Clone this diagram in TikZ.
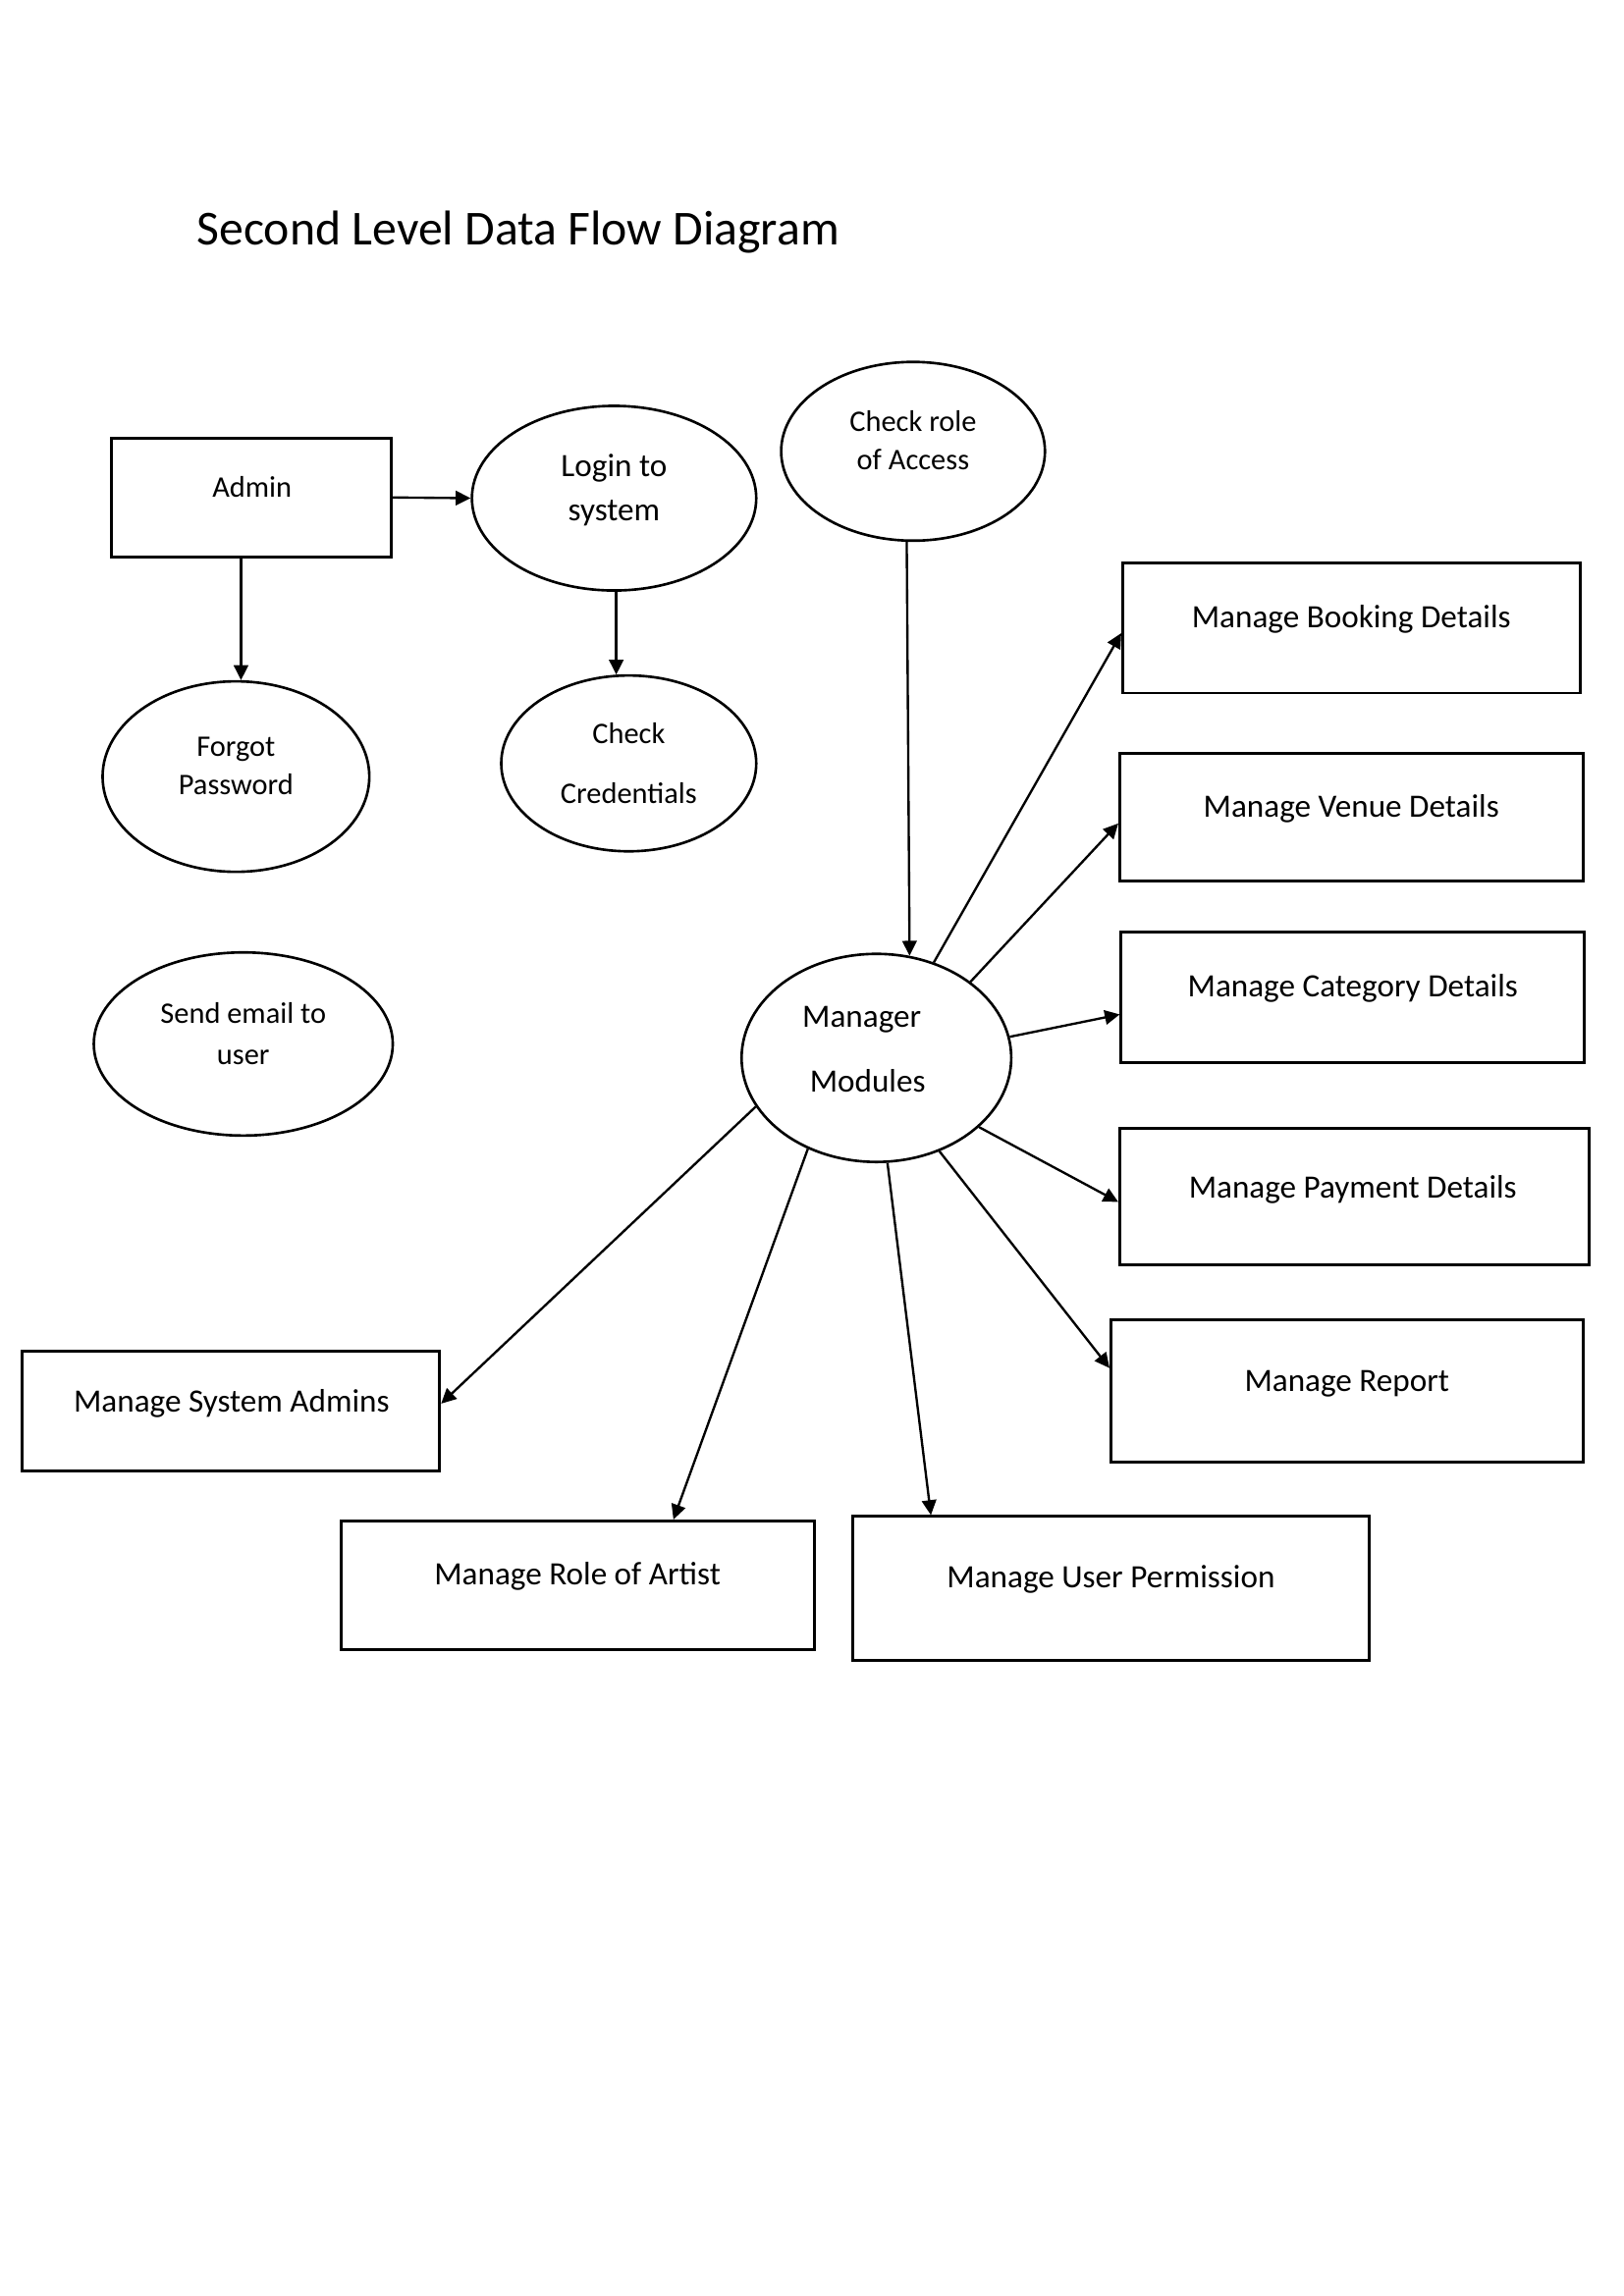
\documentclass[tikz,border=0pt]{standalone}
\usepackage{fontspec}
\setmainfont{Carlito}
\usetikzlibrary{shapes.geometric,arrows.meta,calc}
\def\ux{0.5399pt}
\tikzset{
  boxshape/.style={draw, line width=1.05pt, rectangle, inner sep=0pt},
  ovalshape/.style={draw, line width=0.95pt, ellipse, inner sep=0pt},
  txt/.style={font=\fontsize{12pt}{14pt}\selectfont, inner sep=0pt, anchor=mid, yshift=-1.6pt},
  stxt/.style={font=\fontsize{11pt}{13pt}\selectfont, inner sep=0pt, anchor=mid, yshift=-1.6pt},
  arr/.style={line width=0.85pt, -{Triangle[length=5.5pt,width=5.3pt]}},
}
\begin{document}
\begin{tikzpicture}[x=0.5399pt,y=-0.5399pt]
\useasboundingbox (0,0) rectangle (1108,1567);
% title
\node[font=\fontsize{18pt}{21pt}\selectfont, inner sep=0pt, anchor=mid west] (title) at (134,163) {Second Level Data Flow Diagram};

% boxes
\node[boxshape, minimum width=191*\ux, minimum height=81*\ux] (admin) at (171.5,339.5) {};
\node[stxt] (admint) at (172,332) {Admin};

\node[boxshape, minimum width=312*\ux, minimum height=89*\ux] (book) at (922,428.5) {};
\node[txt] (bookt) at (922,421) {Manage Booking Details};
\node[boxshape, minimum width=316*\ux, minimum height=87*\ux] (venue) at (922,557.5) {};
\node[txt] (venuet) at (922,550) {Manage Venue Details};
\node[boxshape, minimum width=316*\ux, minimum height=89*\ux] (cat) at (923,680.5) {};
\node[txt] (catt) at (923,673) {Manage Category Details};
\node[boxshape, minimum width=320*\ux, minimum height=93*\ux] (pay) at (924,816.5) {};
\node[txt] (payt) at (923,810) {Manage Payment Details};
\node[boxshape, minimum width=322*\ux, minimum height=97*\ux] (rep) at (919,949.5) {};
\node[txt] (rept) at (919,942) {Manage Report};
\node[boxshape, minimum width=285*\ux, minimum height=82*\ux] (sys) at (157.5,963) {};
\node[txt] (syst) at (158,956) {Manage System Admins};
\node[boxshape, minimum width=323*\ux, minimum height=88*\ux] (role) at (394.5,1082) {};
\node[txt] (rolet) at (394,1074) {Manage Role of Artist};
\node[boxshape, minimum width=352*\ux, minimum height=98*\ux] (perm) at (758,1084) {};
\node[txt] (permt) at (758,1076) {Manage User Permission};

% ellipses
\node[ovalshape, minimum width=194*\ux, minimum height=126*\ux] (login) at (419,340) {};
\node[txt] (login1) at (419,318) {Login to};
\node[txt] (login2) at (419,348) {system};

\node[ovalshape, minimum width=180*\ux, minimum height=122*\ux] (cr) at (623,308) {};
\node[stxt] (cr1) at (623,287) {Check role};
\node[stxt] (cr2) at (623,313) {of Access};

\node[ovalshape, minimum width=182*\ux, minimum height=130*\ux] (forgot) at (161,530) {};
\node[stxt] (forgot1) at (161,509) {Forgot};
\node[stxt] (forgot2) at (161,535) {Password};

\node[ovalshape, minimum width=174*\ux, minimum height=120*\ux] (check) at (429,521) {};
\node[stxt] (check1) at (429,500) {Check};
\node[stxt] (check2) at (429,541) {Credentials};

\node[ovalshape, minimum width=204*\ux, minimum height=125*\ux] (mail) at (166,712.5) {};
\node[stxt] (mail1) at (166,691) {Send email to};
\node[stxt] (mail2) at (166,719) {user};

\node[ovalshape, minimum width=184*\ux, minimum height=142*\ux] (mm) at (598,722) {};
\node[txt] (mm1) at (588,694) {Manager};
\node[txt] (mm2) at (592,738) {Modules};

% connectors
\draw[arr] (admin.east) -- (login.west);
\draw[arr] (admin.south -| forgot.87) -- (forgot.87);
\draw[arr] (login.south -| check.98) -- (check.98);
\draw[arr] (cr.266) -- (mm.72);

\draw[arr] (mm.59) -- ($(book.north west)!0.54!(book.south west)$);
\draw[arr] (mm.39) -- ($(venue.north west)!0.55!(venue.south west)$);
\draw[arr] (mm.9) -- ($(cat.north west)!0.63!(cat.south west)$);
\draw[arr] (mm.-34) -- ($(pay.north west)!0.54!(pay.south west)$);
\draw[arr] (mm.-56) -- ($(rep.north west)!0.34!(rep.south west)$);
\draw[arr] (mm.202) -- ($(sys.north east)!0.44!(sys.south east)$);
\draw[arr] (mm.233) -- ($(role.north west)!0.70!(role.north east)$);
\draw[arr] (mm.276) -- ($(perm.north west)!0.153!(perm.north east)$);
\end{tikzpicture}
\end{document}
